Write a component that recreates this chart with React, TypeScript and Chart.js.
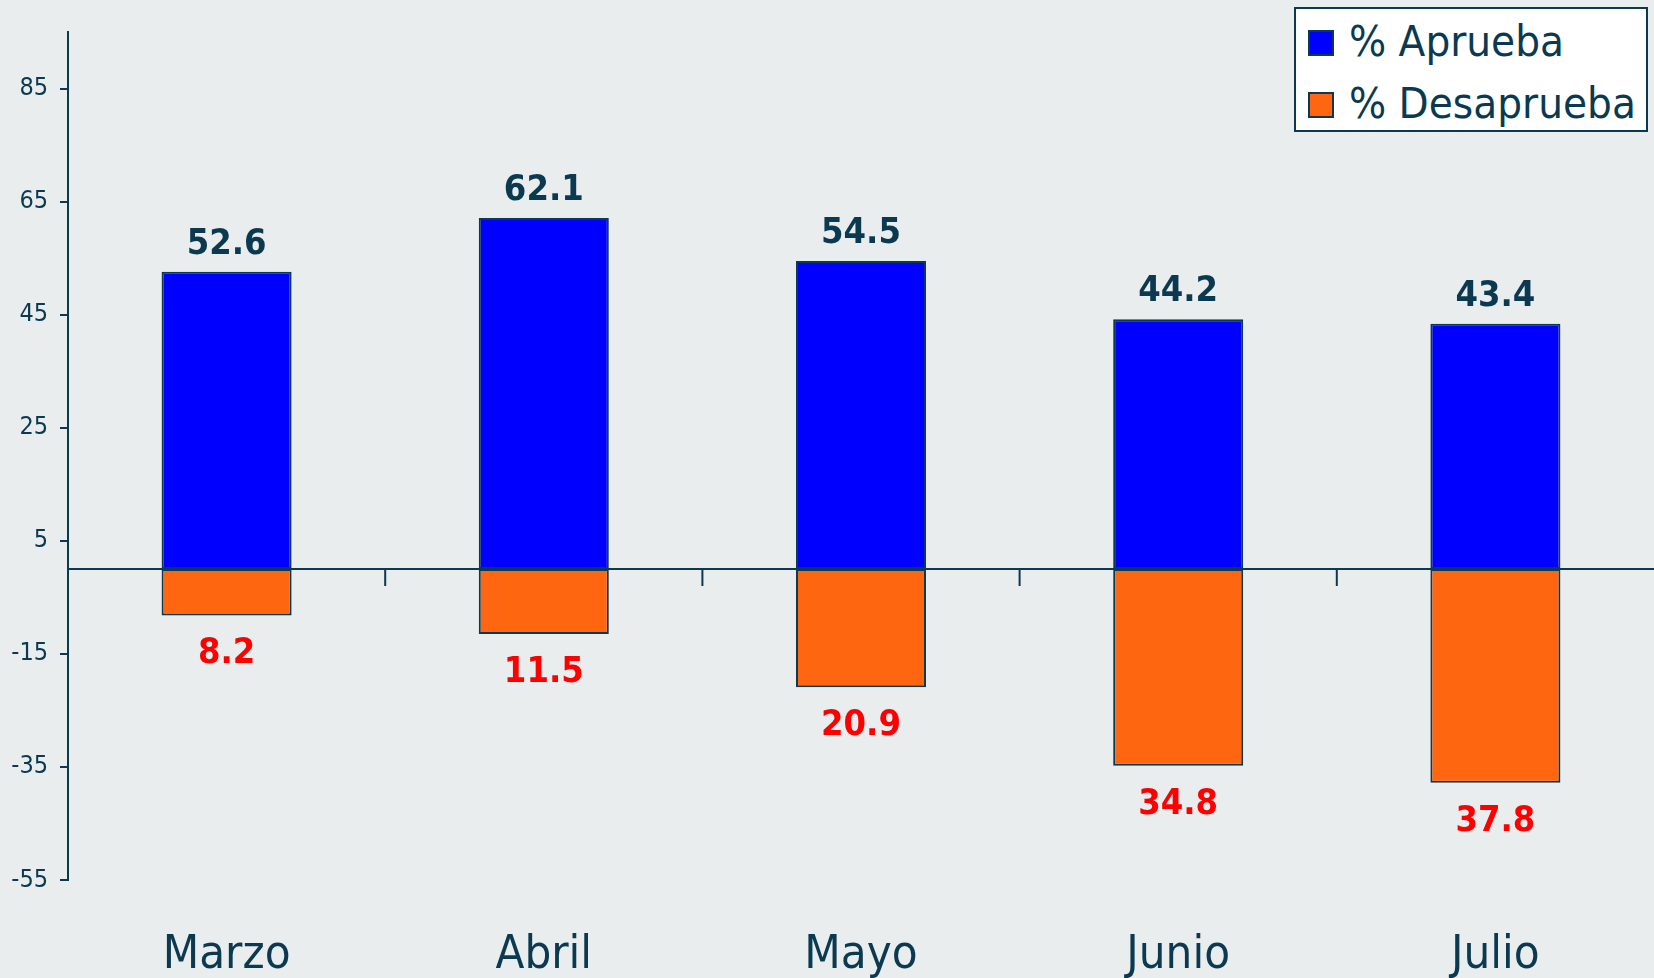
import React, { useEffect, useRef } from "react";
import { Chart, registerables } from "chart.js";

Chart.register(...registerables);

const months = ["Marzo", "Abril", "Mayo", "Junio", "Julio"];
const aprueba = [52.6, 62.1, 54.5, 44.2, 43.4];
const desaprueba = [8.2, 11.5, 20.9, 34.8, 37.8];
const yTicks = [-55, -35, -15, 5, 25, 45, 65, 85];
const yMin = -55;
const yMax = 95;
const seriesNames = ["% Aprueba", "% Desaprueba"];

const NAVY = "#0b3a50";
const BG = "#e9edee";
const BLUE = "#0000ff";
const ORANGE = "#ff660f";
const RED = "#ff0000";
const FONT = "'DejaVu Sans Condensed', 'DejaVu Sans', sans-serif";

const zeroLinePlugin = {
  id: "zeroLine",
  afterDatasetsDraw(chart: any) {
    const { ctx, chartArea, scales } = chart;
    const y0 = scales.y.getPixelForValue(0);
    ctx.save();
    ctx.strokeStyle = NAVY;
    ctx.lineWidth = 2;
    ctx.beginPath();
    ctx.moveTo(chartArea.left, y0);
    ctx.lineTo(chart.width, y0);
    for (let i = 0; i < months.length - 1; i++) {
      const xb = (scales.x.getPixelForValue(i) + scales.x.getPixelForValue(i + 1)) / 2;
      ctx.moveTo(xb, y0);
      ctx.lineTo(xb, y0 + 17);
    }
    ctx.stroke();
    ctx.restore();
  },
};

const valueLabelPlugin = {
  id: "valueLabels",
  afterDatasetsDraw(chart: any) {
    const { ctx } = chart;
    ctx.save();
    ctx.font = `bold 36px ${FONT}`;
    ctx.textAlign = "center";
    ctx.textBaseline = "alphabetic";
    chart.data.datasets.forEach((ds: any, di: number) => {
      const meta = chart.getDatasetMeta(di);
      meta.data.forEach((bar: any, i: number) => {
        const v = ds.data[i];
        const txt = Math.abs(v).toFixed(1);
        if (v >= 0) {
          ctx.fillStyle = NAVY;
          ctx.fillText(txt, bar.x, bar.y - 18);
        } else {
          ctx.fillStyle = RED;
          ctx.fillText(txt, bar.x, bar.y + 48);
        }
      });
    });
    ctx.restore();
  },
};

export default function App() {
  const canvasRef = useRef<HTMLCanvasElement | null>(null);

  useEffect(() => {
    document.body.style.margin = "0";
    document.body.style.overflow = "hidden";
    const canvas = canvasRef.current;
    if (!canvas) return;
    const chart = new Chart(canvas, {
      type: "bar",
      data: {
        labels: months,
        datasets: [
          {
            label: seriesNames[0],
            data: aprueba,
            backgroundColor: BLUE,
            borderColor: NAVY,
            borderWidth: 2,
            borderSkipped: false,
            barPercentage: 0.41,
            categoryPercentage: 1,
          },
          {
            label: seriesNames[1],
            data: desaprueba.map((v) => -v),
            backgroundColor: ORANGE,
            borderColor: NAVY,
            borderWidth: 2,
            borderSkipped: false,
            barPercentage: 0.41,
            categoryPercentage: 1,
          },
        ],
      },
      options: {
        responsive: false,
        animation: false,
        layout: { padding: { top: 32, right: 0, bottom: 0, left: 0 } },
        plugins: {
          legend: { display: false },
          tooltip: { enabled: false },
        },
        scales: {
          x: {
            stacked: true,
            grid: { display: false },
            border: { display: false },
            afterFit: (axis: any) => {
              axis.height = 98;
            },
            ticks: {
              color: NAVY,
              font: { family: FONT, size: 47 },
              padding: 40,
            },
          },
          y: {
            stacked: true,
            min: yMin,
            max: yMax,
            afterBuildTicks: (axis: any) => {
              axis.ticks = yTicks.map((v) => ({ value: v }));
            },
            afterFit: (axis: any) => {
              axis.width = 68;
            },
            border: { display: true, color: NAVY, width: 2 },
            grid: {
              drawOnChartArea: false,
              drawTicks: true,
              tickLength: 8,
              color: NAVY,
              lineWidth: 2,
            },
            ticks: {
              color: NAVY,
              font: { family: FONT, size: 25 },
              padding: 12,
            },
          },
        },
      },
      plugins: [zeroLinePlugin, valueLabelPlugin],
    });
    return () => chart.destroy();
  }, []);

  return (
    <div style={{ position: "relative", width: 1654, height: 978, background: BG, overflow: "hidden" }}>
      <canvas ref={canvasRef} width={1654} height={978} style={{ display: "block" }} />
      <div
        style={{
          position: "absolute",
          left: 1294,
          top: 7,
          width: 350,
          height: 121,
          border: `2px solid ${NAVY}`,
          background: "#ffffff",
          fontFamily: FONT,
          color: NAVY,
        }}
      >
        {[BLUE, ORANGE].map((c, i) => (
          <React.Fragment key={i}>
            <div
              style={{
                position: "absolute",
                left: 12,
                top: 21 + i * 62,
                width: 22,
                height: 22,
                border: `2px solid ${NAVY}`,
                background: c,
              }}
            />
            <span
              style={{
                position: "absolute",
                left: 53,
                top: 11 + i * 62,
                fontSize: 43.5,
                lineHeight: "43.5px",
                whiteSpace: "nowrap",
              }}
            >
              {seriesNames[i]}
            </span>
          </React.Fragment>
        ))}
      </div>
    </div>
  );
}
